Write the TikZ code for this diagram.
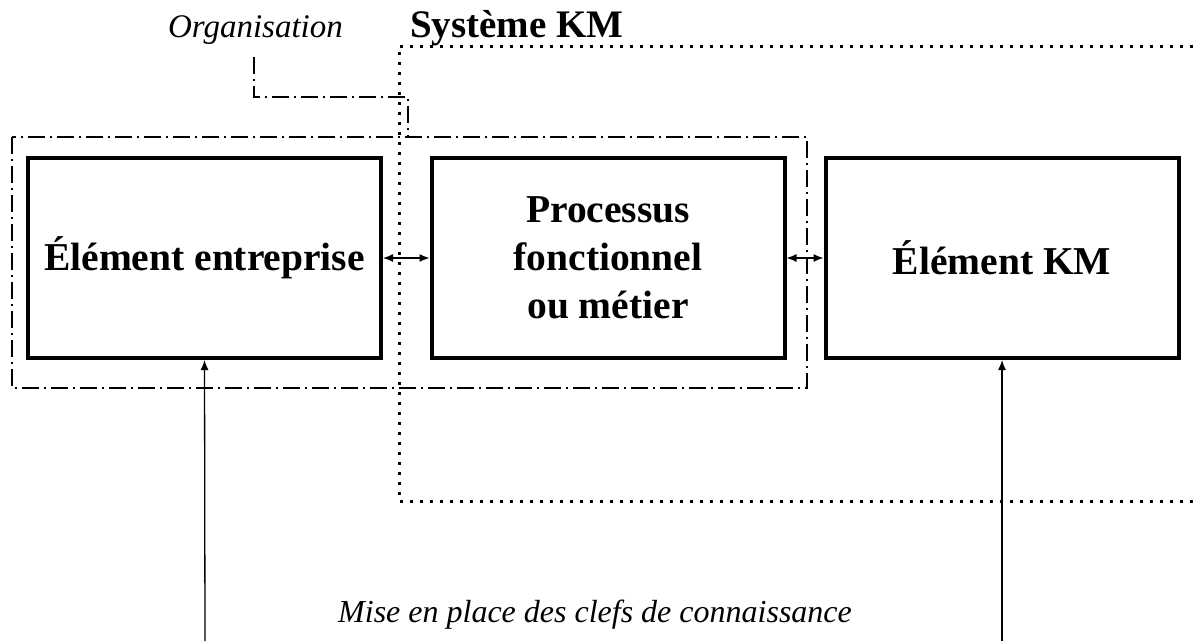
\documentclass[tikz,border=0pt]{standalone}
\usepackage{fontspec}
\setmainfont{Liberation Serif}
\usetikzlibrary{arrows.meta}
\begin{document}
\begin{tikzpicture}[x=1pt,y=-1pt,
  kbox/.style={draw,line width=4pt,minimum width=353pt,minimum height=200pt,inner sep=0pt,
    font=\fontsize{39.5}{48}\selectfont\bfseries,align=center},
  dashdot/.style={line width=1.3pt,dash pattern=on 17pt off 5pt on 2pt off 5pt},
  dotline/.style={line width=3pt,dash pattern=on 3pt off 7pt},
  link/.style={line width=1.3pt},
  tiphead/.tip={Latex[length=10pt,width=8pt]},
  ]
\useasboundingbox (0,0) rectangle (1193,641);
% boxes
\node[kbox] (b1) at (204.5,258) {Élément entreprise};
\node[kbox] (b2) at (608,258) {Processus\\fonctionnel\\ou métier};
\node[kbox] (b3) at (1002,258) {Élément KM};
% labels
\node[font=\fontsize{33}{38}\selectfont\itshape, anchor=base, inner sep=0pt] (org) at (255.5,37) {Organisation};
\node[font=\fontsize{39}{42}\selectfont\bfseries, anchor=base west, inner sep=0pt] (skm) at (410,37) {Système KM};
\node[font=\fontsize{32}{38}\selectfont\itshape, anchor=base, inner sep=0pt] (mise) at (595,622) {Mise en place des clefs de connaissance};
% coordinates
\coordinate (ddNW) at (12,137);
\coordinate (ddSE) at (807,388);
\coordinate (orgA) at (254,57);
\coordinate (orgB) at (254,97);
\coordinate (orgC) at (408,97);
\coordinate (orgD) at (408,137);
\coordinate (kmTR) at (1193,46);
\coordinate (kmTL) at (399,46);
\coordinate (kmBL) at (399,501);
\coordinate (kmBR) at (1193,501);
\coordinate (bot1) at (205,641);
\coordinate (bot3) at (1002,641);
% organisation frame (dash-dot)
\draw[dashdot] (ddNW) rectangle (ddSE);
\draw[dashdot] (orgA) -- (orgB) -- (orgC) -- (orgD);
% KM system frame (dotted)
\draw[dotline] (kmTR) -- (kmTL) -- (kmBL) -- (kmBR);
% connectors
\draw[link,tiphead-tiphead] (b1.east) -- (b2.west);
\draw[link,tiphead-tiphead] (b2.east) -- (b3.west);
\draw[link,-tiphead] (bot1) -- (b1.south);
\draw[link,-tiphead] (bot3) -- (b3.south);
\end{tikzpicture}
\end{document}
